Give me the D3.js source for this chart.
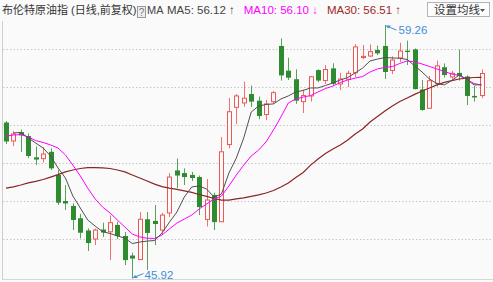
<!DOCTYPE html>
<meta charset="utf-8">
<script src="https://d3js.org/d3.v7.min.js"></script>
<style>
  body { margin: 0; background: #fafafa; }
  text { font-family: "Liberation Sans", Arial, "Noto Sans CJK SC", sans-serif; }
</style>
<div id="chart"></div>
<script>
// daily candles, oldest first
var open  = [54.13,53.16,53.63,53.42,52.30,52.23,52.59,51.37,50.00,49.74,49.09,48.45,48.00,48.50,48.38,48.74,48.16,47.13,46.92,49.04,48.95,48.47,49.37,51.61,51.47,51.37,51.26,49.03,50.32,48.91,52.97,54.93,55.16,55.63,55.28,54.55,55.23,58.16,56.86,56.41,55.23,55.53,56.89,56.34,56.98,56.16,56.41,56.75,57.55,57.63,57.95,58.16,56.87,57.53,57.91,57.98,55.87,54.88,56.19,57.04,56.53,56.74,56.55,55.53,55.55];
var high  = [54.21,53.68,53.76,53.55,52.87,52.84,52.77,51.63,50.84,49.87,49.32,48.56,48.55,48.86,49.24,48.91,48.37,47.28,49.42,49.42,49.79,49.37,51.47,52.24,51.72,51.53,51.34,51.16,50.44,53.37,55.42,55.63,56.28,56.08,55.50,55.32,55.79,58.56,57.54,56.93,55.86,56.58,56.93,57.16,57.25,56.74,56.86,58.26,58.21,58.24,58.18,59.26,57.61,58.33,58.44,58.03,56.37,56.58,57.39,57.24,56.84,57.97,56.61,56.05,56.92];
var low   = [53.00,52.89,52.58,52.26,51.89,52.02,51.63,49.79,49.53,48.47,48.03,47.37,47.68,48.11,46.89,48.00,46.63,45.92,46.89,46.37,47.68,48.21,49.16,50.68,50.84,51.05,49.26,48.66,48.47,48.89,52.77,54.05,54.96,54.95,54.30,54.26,55.11,56.34,56.37,55.11,54.63,55.23,56.26,56.16,56.08,55.84,56.00,56.53,57.47,57.58,57.68,56.42,56.68,57.32,57.16,55.87,54.75,54.87,56.03,56.50,56.37,56.34,55.05,55.23,55.41];
var close = [53.13,53.53,53.45,52.37,52.18,52.47,51.72,49.91,49.87,49.00,48.33,47.79,48.47,48.34,48.86,48.16,46.89,46.97,49.04,48.32,48.79,49.26,51.26,51.34,51.26,51.21,49.68,50.05,48.89,52.59,54.70,55.53,55.41,55.23,54.47,55.11,55.70,56.61,56.49,55.28,55.55,56.54,56.34,56.92,56.17,56.42,56.72,58.11,57.61,57.86,57.77,56.79,57.42,57.89,57.84,55.89,54.79,56.33,57.11,56.63,56.72,56.58,55.53,55.45,56.71];

// moving averages as shown
var ma5  = [null,53.58,53.61,53.32,53.05,52.79,52.37,51.74,51.21,50.26,49.63,49.00,48.68,48.39,48.29,48.16,48.05,47.76,47.84,47.89,47.92,48.32,48.89,49.42,50.21,50.74,50.79,50.63,50.21,50.37,51.47,52.26,53.32,54.68,55.00,55.08,55.11,55.37,55.53,55.74,55.82,55.95,55.95,56.08,56.21,56.37,56.50,56.74,57.00,57.37,57.47,57.55,57.53,57.51,57.45,57.11,56.79,56.42,56.18,56.11,56.34,56.63,56.42,56.11,56.12];
var ma10 = [53.42,53.47,53.50,53.37,53.18,53.08,52.95,52.79,52.42,51.89,51.32,50.68,50.11,49.68,49.37,49.00,48.63,48.26,48.11,48.04,48.03,48.21,48.53,48.84,49.05,49.26,49.58,49.84,50.11,50.26,50.79,51.37,51.89,52.37,52.68,53.11,53.74,54.42,55.16,55.37,55.47,55.55,55.74,55.92,56.05,56.24,56.37,56.47,56.55,56.79,56.95,57.03,57.08,57.24,57.37,57.32,57.21,57.08,56.95,56.82,56.68,56.61,56.39,56.18,56.10];
var ma30 = [50.68,50.74,50.84,50.95,51.03,51.13,51.26,51.39,51.53,51.63,51.71,51.76,51.76,51.74,51.71,51.63,51.53,51.37,51.21,51.05,50.89,50.76,50.68,50.61,50.53,50.45,50.34,50.24,50.13,50.05,50.05,50.11,50.16,50.24,50.32,50.42,50.55,50.74,50.95,51.24,51.50,51.89,52.21,52.50,52.74,52.95,53.21,53.53,53.79,54.16,54.45,54.74,55.00,55.24,55.42,55.61,55.79,55.95,56.11,56.24,56.34,56.42,56.47,56.50,56.51];

var gridTicks = [48, 50, 52, 54, 56, 58];
var title = "布伦特原油指 (日线,前复权)";
var maLabels = [
  {text: "MA5: 56.12 \u2191", color: "#444"},
  {text: "MA10: 56.10 \u2193", color: "#ff00ff"},
  {text: "MA30: 56.51 \u2191", color: "#a02828"}
];

var W = 493, H = 282;
var svg = d3.select("#chart").append("svg")
    .attr("width", W)
    .attr("height", H);

svg.append("rect").attr("width", W).attr("height", H).attr("fill", "#fafafa");

var x = d3.scaleLinear().domain([0, close.length - 1]).range([6, 481.5]);
var y = d3.scaleLinear().domain([48, 58]).range([239, 49]);

// grid
svg.selectAll(".grid")
  .data(gridTicks)
  .enter().append("line")
    .attr("x1", 3).attr("x2", W)
    .attr("y1", function(d) { return Math.round(y(d)) + 0.5; })
    .attr("y2", function(d) { return Math.round(y(d)) + 0.5; })
    .attr("stroke", "#c8c8c8")
    .attr("stroke-dasharray", "1.5,2");

// frame
svg.append("line").attr("x1", 2.5).attr("x2", 2.5).attr("y1", 21).attr("y2", 280)
  .attr("stroke", "#cfcfcf");
svg.append("line").attr("x1", 2).attr("x2", W).attr("y1", 279.5).attr("y2", 279.5)
  .attr("stroke", "#d6d6d6");

// candles
var idx = d3.range(close.length);
var candle = svg.selectAll(".candle")
  .data(idx)
  .enter().append("g");

candle.append("line")
  .attr("x1", function(i) { return Math.round(x(i)) + 0.5; })
  .attr("x2", function(i) { return Math.round(x(i)) + 0.5; })
  .attr("y1", function(i) { return y(high[i]); })
  .attr("y2", function(i) { return y(low[i]); })
  .attr("stroke", function(i) { return close[i] >= open[i] ? "#f07070" : "#5aa05a"; });

candle.append("rect")
  .attr("x", function(i) { return close[i] >= open[i] ? Math.round(x(i)) - 1.5 : Math.round(x(i)) - 2; })
  .attr("width", function(i) { return close[i] >= open[i] ? 4 : 5; })
  .attr("y", function(i) { return y(Math.max(open[i], close[i])); })
  .attr("height", function(i) { return Math.max(1, Math.abs(y(open[i]) - y(close[i]))); })
  .attr("fill", function(i) { return close[i] >= open[i] ? "#fafafa" : "#2e8b2e"; })
  .attr("stroke", function(i) { return close[i] >= open[i] ? "#ee5555" : "none"; })
  .attr("stroke-width", 1);

// MA lines
var line = function(arr) {
  return d3.line()
    .defined(function(i) { return arr[i] != null; })
    .x(function(i) { return x(i); })
    .y(function(i) { return y(arr[i]); })(idx);
};
svg.append("path").attr("d", line(ma30)).attr("fill", "none").attr("stroke", "#8b2525").attr("stroke-width", 1.2);
svg.append("path").attr("d", line(ma10)).attr("fill", "none").attr("stroke", "#ff00ff").attr("stroke-width", 1);
svg.append("path").attr("d", line(ma5)).attr("fill", "none").attr("stroke", "#505050").attr("stroke-width", 1);

// max / min markers
var iMax = d3.maxIndex(high), iMin = d3.minIndex(low);
var blue = "#3d8fd6";
function marker(i, v, dx, dy, tx, ty) {
  var px = Math.round(x(i)) + 0.5, py = y(v);
  svg.append("line").attr("x1", px + 1).attr("y1", py + (dy > 0 ? 1 : -1))
    .attr("x2", px + dx).attr("y2", py + dy).attr("stroke", blue);
  svg.append("path")
    .attr("d", dy > 0
      ? "M" + (px + 0.5) + "," + (py + 0.5) + "l5,0l-3,3z"
      : "M" + (px + 0.5) + "," + (py - 0.5) + "l5,0l-3,-3z")
    .attr("fill", blue);
  svg.append("text").attr("x", px + tx).attr("y", py + ty)
    .attr("font-size", "11.5px").attr("fill", blue).text(v.toFixed(2));
}
marker(iMax, high[iMax], 11, 5, 13, 9);
marker(iMin, low[iMin], 11, -5, 12, 0);

// header
svg.append("text").attr("x", 2).attr("y", 14)
  .attr("font-size", "11px").attr("fill", "#333").text(title);

svg.append("rect").attr("x", 137.5).attr("y", 6.5).attr("width", 8).attr("height", 11)
  .attr("fill", "#eee").attr("stroke", "#999");
svg.append("text").attr("x", 141.5).attr("y", 15.5).attr("text-anchor", "middle")
  .attr("font-size", "10px").attr("fill", "#777").text("?");
svg.append("text").attr("x", 147).attr("y", 14)
  .attr("font-size", "11px").attr("fill", "#444").text("MA");

// MA labels laid out one after another
var labX = 167;
maLabels.forEach(function(d) {
  var t = svg.append("text")
    .attr("x", labX)
    .attr("y", 14)
    .attr("font-size", "11.5px")
    .attr("fill", d.color)
    .text(d.text);
  labX += t.node().getComputedTextLength() + 9;
});

// settings button
svg.append("rect").attr("x", 427.5).attr("y", 2.5).attr("width", 62).attr("height", 14)
  .attr("fill", "#fdfdfd").attr("stroke", "#b5b5b5");
svg.append("text").attr("x", 434).attr("y", 14)
  .attr("font-size", "11.5px").attr("fill", "#333").text("设置均线");
svg.append("path").attr("d", "M480,9l5,0l-2.5,3z").attr("fill", "#555");
</script>
